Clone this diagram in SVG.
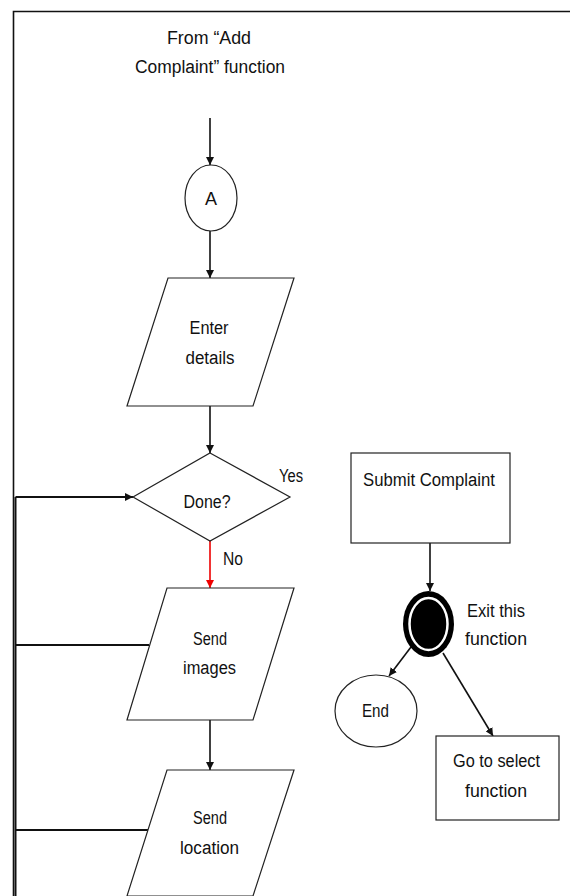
<svg xmlns="http://www.w3.org/2000/svg" width="570" height="896" viewBox="0 0 570 896">
<defs>
<style>
.shape{fill:#fff;stroke:#222;stroke-width:1.2}
.t{font-family:"Liberation Sans",Arial,sans-serif;font-size:18px;fill:#111;text-anchor:middle}
.ts{font-family:"Liberation Sans",Arial,sans-serif;font-size:18px;fill:#111}
.c{fill:none;stroke:#111;stroke-width:1.6}
.loop{fill:none;stroke:#111;stroke-width:2}
</style>
<marker id="ah" viewBox="0 0 10 10" refX="10" refY="5" markerWidth="8" markerHeight="8" markerUnits="userSpaceOnUse" orient="auto"><path d="M0,0 L10,5 L0,10 z" fill="#111"/></marker>
<marker id="ahr" viewBox="0 0 10 10" refX="10" refY="5" markerWidth="8" markerHeight="8" markerUnits="userSpaceOnUse" orient="auto"><path d="M0,0 L10,5 L0,10 z" fill="#e00"/></marker>
</defs>
<rect width="570" height="896" fill="#fff"/>
<path d="M13.5 896 V11.5 H572" fill="none" stroke="#111" stroke-width="1.6"/>

<g id="connectors">
<line class="c" x1="210" y1="118" x2="210" y2="165" marker-end="url(#ah)"/>
<line class="c" x1="210" y1="231" x2="210" y2="278" marker-end="url(#ah)"/>
<line class="c" x1="210" y1="406" x2="210" y2="453" marker-end="url(#ah)"/>
<line x1="210" y1="541" x2="210" y2="588" stroke="#e00" stroke-width="1.6" marker-end="url(#ahr)"/>
<line class="c" x1="210" y1="720" x2="210" y2="770" marker-end="url(#ah)"/>
<path class="loop" d="M15.5 896 V497"/>
<line class="loop" x1="15.5" y1="497" x2="133" y2="497" marker-end="url(#ah)"/>
<line class="loop" x1="15.5" y1="645" x2="149" y2="645"/>
<line class="loop" x1="15.5" y1="830" x2="148" y2="830"/>
<line class="c" x1="430" y1="543" x2="430" y2="591" marker-end="url(#ah)"/>
<line class="c" x1="411" y1="647" x2="389" y2="676" marker-end="url(#ah)"/>
<line class="c" x1="443" y1="653" x2="493" y2="736" marker-end="url(#ah)"/>
</g>

<g id="start-label">
<text class="t" x="209" y="44" textLength="84" lengthAdjust="spacingAndGlyphs">From “Add</text>
<text class="t" x="210" y="73" textLength="150" lengthAdjust="spacingAndGlyphs">Complaint” function</text>
</g>

<g id="connector-A">
<ellipse class="shape" cx="211" cy="198" rx="26" ry="33"/>
<text class="t" x="211" y="204.5">A</text>
</g>

<g id="enter-details">
<polygon class="shape" points="168,278 294,278 253,406 127,406"/>
<text class="t" x="209" y="333.5" textLength="39" lengthAdjust="spacingAndGlyphs">Enter</text>
<text class="t" x="210" y="363.5" textLength="49" lengthAdjust="spacingAndGlyphs">details</text>
</g>

<g id="done">
<polygon class="shape" points="210,453 290,497 210,541 133,497"/>
<text class="t" x="207" y="507.5" textLength="47" lengthAdjust="spacingAndGlyphs">Done?</text>
<text class="ts" x="279" y="481.5" textLength="24" lengthAdjust="spacingAndGlyphs">Yes</text>
<text class="ts" x="223" y="564.5" textLength="20" lengthAdjust="spacingAndGlyphs">No</text>
</g>

<g id="send-images">
<polygon class="shape" points="167,588 294,588 253,720 127,720"/>
<text class="t" x="210" y="644.5" textLength="34" lengthAdjust="spacingAndGlyphs">Send</text>
<text class="t" x="209.5" y="673.5" textLength="53" lengthAdjust="spacingAndGlyphs">images</text>
</g>

<g id="send-location">
<polygon class="shape" points="167,770 294,770 253,896 127,896"/>
<text class="t" x="210" y="823.5" textLength="34" lengthAdjust="spacingAndGlyphs">Send</text>
<text class="t" x="209.5" y="853.5" textLength="59" lengthAdjust="spacingAndGlyphs">location</text>
</g>

<g id="submit-complaint">
<rect class="shape" x="351" y="453" width="159" height="90"/>
<text class="t" x="429" y="485.5" textLength="132" lengthAdjust="spacingAndGlyphs">Submit Complaint</text>
</g>

<g id="exit">
<ellipse cx="428.5" cy="624" rx="25.5" ry="33" fill="#000"/>
<ellipse cx="428.5" cy="624" rx="19" ry="26" fill="#000" stroke="#fff" stroke-width="2.5"/>
<text class="ts" x="467" y="616.5" textLength="58" lengthAdjust="spacingAndGlyphs">Exit this</text>
<text class="ts" x="465" y="644.5" textLength="62" lengthAdjust="spacingAndGlyphs">function</text>
</g>

<g id="end">
<ellipse class="shape" cx="376" cy="711" rx="41" ry="36"/>
<text class="t" x="375.5" y="716.5" textLength="27" lengthAdjust="spacingAndGlyphs">End</text>
</g>

<g id="go-to-select">
<rect class="shape" x="436" y="736" width="123" height="84"/>
<text class="t" x="496.5" y="766.5" textLength="87" lengthAdjust="spacingAndGlyphs">Go to select</text>
<text class="t" x="496" y="796.5" textLength="62" lengthAdjust="spacingAndGlyphs">function</text>
</g>
</svg>
